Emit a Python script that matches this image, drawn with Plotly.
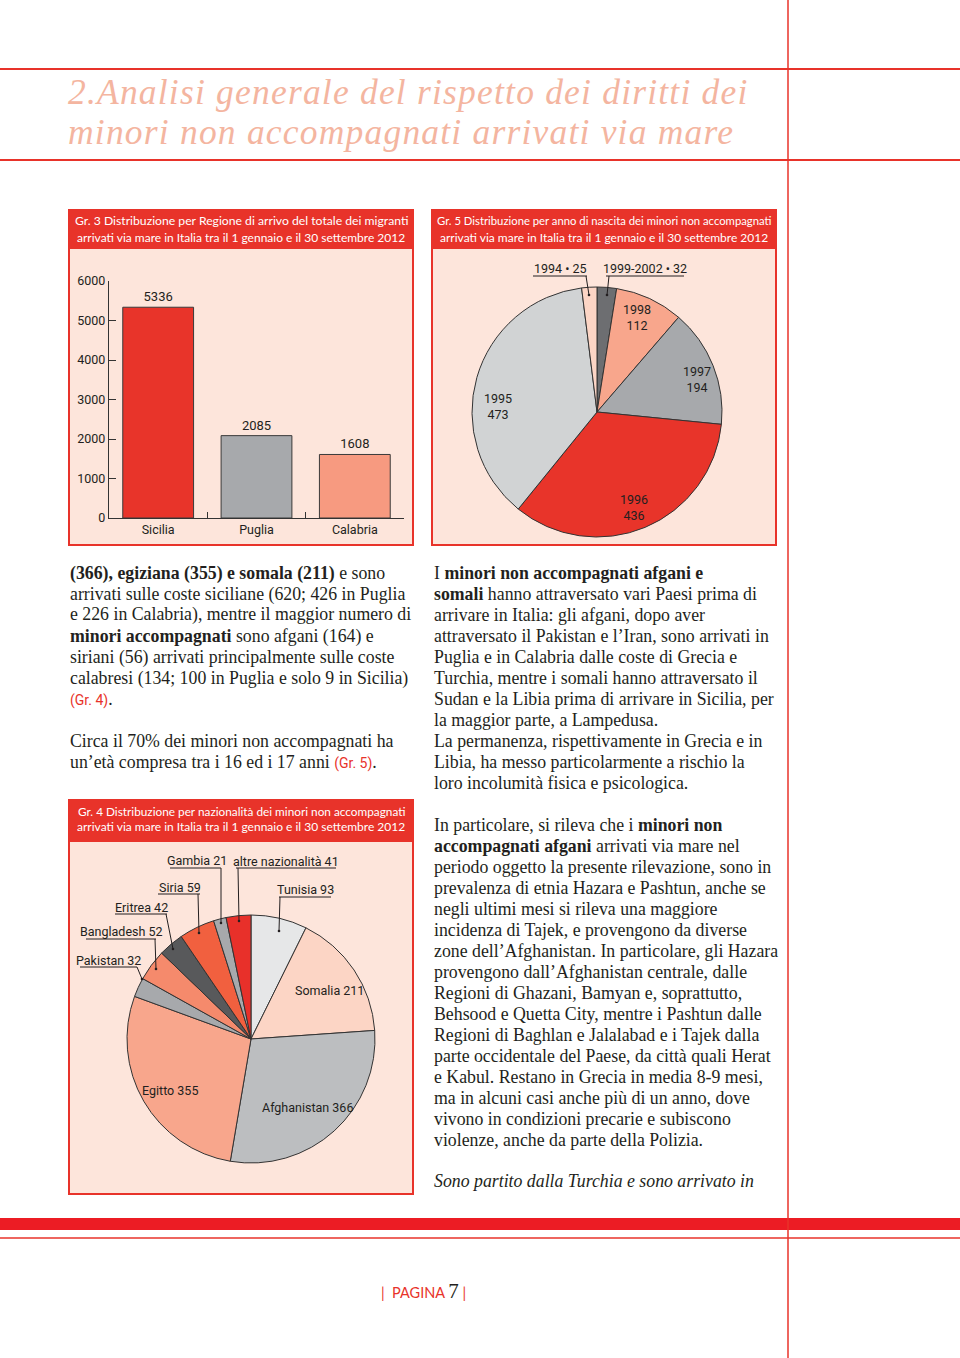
import plotly.graph_objects as go

W, H = 960, 1358

# ---------------- data ----------------
regions = ["Sicilia", "Puglia", "Calabria"]
region_values = [5336, 2085, 1608]
region_colors = ["#e8342a", "#a7a9ac", "#f79a80"]
bar_ticks = [0, 1000, 2000, 3000, 4000, 5000, 6000]

birth_years = ["1999-2002", "1998", "1997", "1996", "1995", "1994"]
birth_values = [32, 112, 194, 436, 473, 25]
birth_colors = ["#6d6e71", "#f8a68c", "#a7a9ac", "#e8342a", "#d1d3d4", "#fcd5c5"]

nations = ["Tunisia", "Somalia", "Afghanistan", "Egitto", "Pakistan", "Bangladesh",
           "Eritrea", "Siria", "Gambia", "altre nazionalità"]
nation_values = [93, 211, 366, 355, 32, 52, 42, 59, 21, 41]
nation_colors = ["#e6e7e8", "#fcd5c5", "#bcbec0", "#f8a68c", "#a7a9ac", "#f58a6c",
                 "#58595b", "#f1603f", "#a7a9ac", "#e8302a"]

# ---------------- helpers ----------------
def X(p):
    return p / W

def Y(p):
    return 1 - p / H

RED = "#e8332a"
BOXBG = "#fde5db"
INK = "#231f20"
COND = "Roboto, Lato, sans-serif"
GILL = "Lato, Open Sans, sans-serif"
SERIF = "Liberation Serif, DejaVu Serif, serif"

shapes = []
annos = []

def rect(x0, y0, x1, y1, fill=None, line=None, lw=0, layer="below"):
    shapes.append(dict(type="rect", xref="paper", yref="paper",
                       x0=X(x0), x1=X(x1), y0=Y(y1), y1=Y(y0),
                       fillcolor=fill if fill else "rgba(0,0,0,0)",
                       line=dict(color=line if line else "rgba(0,0,0,0)", width=lw),
                       layer=layer))

def line(x0, y0, x1, y1, color=INK, lw=1, layer="above"):
    shapes.append(dict(type="line", xref="paper", yref="paper",
                       x0=X(x0), x1=X(x1), y0=Y(y0), y1=Y(y1),
                       line=dict(color=color, width=lw), layer=layer))

def dot(x, y, r=1.3):
    shapes.append(dict(type="circle", xref="paper", yref="paper",
                       x0=X(x - r), x1=X(x + r), y0=Y(y + r), y1=Y(y - r),
                       fillcolor=INK, line=dict(width=0), layer="above"))

def text(x, y, s, size=16, color=INK, family=SERIF, anchor="left"):
    annos.append(dict(xref="paper", yref="paper", x=X(x), y=Y(y), text=s,
                      showarrow=False, xanchor=anchor, yanchor="middle",
                      font=dict(size=size, color=color, family=family)))

# ---------------- page frame ----------------
line(0, 69, W, 69, color=RED, lw=2)
line(0, 160, W, 160, color=RED, lw=2)
line(788, 0, 788, H, color=RED, lw=1.5)
rect(0, 1218, W, 1230, fill="#ec1c24", layer="below")
line(0, 1238, W, 1238, color=RED, lw=1.5)

LS = "<span style='letter-spacing:1.2px'>"
text(66, 92, LS + "<i>2.Analisi generale del rispetto dei diritti dei</i></span>", size=35.5,
     color="#f4b5a0", family=SERIF)
text(66, 132, LS + "<i>minori non accompagnati arrivati via mare</i></span>", size=35.5,
     color="#f4b5a0", family=SERIF)

# footer page number
text(423, 1291, "<span style='color:#e8332a'>|  PAGINA </span>"
     "<span style='font-family:Liberation Serif;font-size:21px;color:#231f20'>7</span>"
     "<span style='color:#e8332a'> |</span>", size=14.5, family=GILL, anchor="center")

# ---------------- chart boxes ----------------
def box(x0, y0, x1, y1, hb, t1, t2, s1, s2):
    rect(x0, y0, x1, y1, fill=BOXBG, line=RED, lw=2)
    rect(x0, y0, x1, hb, fill=RED, line=RED, lw=2)
    cx = (x0 + x1) / 2
    text(cx, y0 + 11, t1, size=s1, color="white", family=GILL, anchor="center")
    text(cx, y0 + 27, t2, size=s2, color="white", family=GILL, anchor="center")

sub = "arrivati via mare in Italia tra il 1 gennaio e il 30 settembre 2012"
box(69, 210, 413, 545, 248, "Gr. 3 Distribuzione per Regione di arrivo del totale dei migranti", sub, 12.2, 12.0)
box(432, 210, 776, 545, 248, "Gr. 5 Distribuzione per anno di nascita dei minori non accompagnati", sub, 11.3, 12.0)
box(69, 800, 413, 1194, 841, "Gr. 4 Distribuzione per nazionalità dei minori non accompagnati", sub, 11.8, 12.0)

# ---------------- bar chart (Gr. 3) ----------------
fig = go.Figure()
fig.add_trace(go.Bar(
    x=regions, y=region_values, width=0.72,
    marker=dict(color=region_colors, line=dict(color="#3a3a3a", width=1)),
    text=[str(v) for v in region_values], textposition="outside",
    textfont=dict(family=COND, size=13, color=INK), cliponaxis=False,
    hoverinfo="skip", xaxis="x", yaxis="y"))

# ---------------- pie Gr. 5 ----------------
c5x, c5y, r5 = 597, 412, 125
fig.add_trace(go.Pie(
    labels=birth_years, values=birth_values, sort=False, direction="clockwise",
    rotation=0, marker=dict(colors=birth_colors, line=dict(color="#333333", width=1)),
    textinfo="none", hoverinfo="skip", showlegend=False,
    domain=dict(x=[X(c5x - r5), X(c5x + r5)], y=[Y(c5y + r5), Y(c5y - r5)])))

g5_pos = {"1998": (637, 317), "1997": (697, 379), "1996": (634, 507), "1995": (498, 406)}
for lab, val in zip(birth_years, birth_values):
    if lab in g5_pos:
        x, y = g5_pos[lab]
        text(x, y, f"{lab}<br>{val}", size=12.5, family=COND, anchor="center")
small5 = {"1994": (560, 269, 533, 587, 586, 589), "1999-2002": (645, 269, 606, 684, 609, 607)}
for lab, val in zip(birth_years, birth_values):
    if lab in small5:
        x, y, u0, u1, lx, dx = small5[lab]
        text(x, y, f"{lab} • {val}", size=12.5, family=COND, anchor="center")
        line(u0, 276, u1, 276, lw=1)
        line(lx, 276, dx, 295, lw=1)
        dot(dx, 295)

# ---------------- pie Gr. 4 ----------------
c4x, c4y, r4 = 251, 1039, 124
fig.add_trace(go.Pie(
    labels=nations, values=nation_values, sort=False, direction="clockwise",
    rotation=0, marker=dict(colors=nation_colors, line=dict(color="#333333", width=1)),
    textinfo="none", hoverinfo="skip", showlegend=False,
    domain=dict(x=[X(c4x - r4), X(c4x + r4)], y=[Y(c4y + r4), Y(c4y - r4)])))

inner4 = {"Somalia": (329, 990), "Afghanistan": (307, 1107), "Egitto": (170, 1090)}
for lab, val in zip(nations, nation_values):
    if lab in inner4:
        x, y = inner4[lab]
        text(x, y, f"{lab} {val}", size=12.5, family=COND, anchor="center")

# outer labels: text centre, underline y, underline x0,x1, leader start x, dot (x,y)
outer4 = {
    "Gambia": (197, 860, 868, 170, 221, 221, 221, 923),
    "altre nazionalità": (286, 861, 868, 236, 336, 238, 239, 921),
    "Tunisia": (305, 889, 897, 279, 331, 280, 279, 931),
    "Siria": (180, 887, 894, 158, 200, 198, 199, 933),
    "Eritrea": (141, 907, 914, 115, 167, 166, 173, 949),
    "Bangladesh": (121, 931, 939, 86, 156, 155, 156, 969),
    "Pakistan": (108, 960, 967, 80, 137, 137, 142, 979),
}
for lab, val in zip(nations, nation_values):
    if lab in outer4:
        tx, ty, uy, u0, u1, lx, dx, dy = outer4[lab]
        text(tx, ty, f"{lab} {val}", size=12.5, family=COND, anchor="center")
        line(u0, uy, u1, uy, lw=1)
        line(lx, uy, dx, dy, lw=1)
        dot(dx, dy)

# ---------------- body text ----------------
RC = "<span style='color:#e8332a;font-family:Roboto, sans-serif;font-size:14px'>"
BS = 17.8
left_lines = [
    (573, "<b>(366), egiziana (355) e somala (211)</b> e sono"),
    (594, "arrivati sulle coste siciliane (620; 426 in Puglia"),
    (615, "e 226 in Calabria), mentre il maggior numero di"),
    (636, "<b>minori accompagnati</b> sono afgani (164) e"),
    (657, "siriani (56) arrivati principalmente sulle coste"),
    (678, "calabresi (134; 100 in Puglia e solo 9 in Sicilia)"),
    (699, RC + "(Gr. 4)</span>."),
    (741, "Circa il 70% dei minori non accompagnati ha"),
    (762, "un’età compresa tra i 16 ed i 17 anni " + RC + "(Gr. 5)</span>."),
]
for y, s in left_lines:
    text(68, y, s, size=BS)

right_lines = [
    "I <b>minori non accompagnati afgani e</b>",
    "<b>somali</b> hanno attraversato vari Paesi prima di",
    "arrivare in Italia: gli afgani, dopo aver",
    "attraversato il Pakistan e l’Iran, sono arrivati in",
    "Puglia e in Calabria dalle coste di Grecia e",
    "Turchia, mentre i somali hanno attraversato il",
    "Sudan e la Libia prima di arrivare in Sicilia, per",
    "la maggior parte, a Lampedusa.",
    "La permanenza, rispettivamente in Grecia e in",
    "Libia, ha messo particolarmente a rischio la",
    "loro incolumità fisica e psicologica.",
]
for i, s in enumerate(right_lines):
    text(432, 573 + 21 * i, s, size=BS)

right_lines2 = [
    "In particolare, si rileva che i <b>minori non</b>",
    "<b>accompagnati afgani</b> arrivati via mare nel",
    "periodo oggetto la presente rilevazione, sono in",
    "prevalenza di etnia Hazara e Pashtun, anche se",
    "negli ultimi mesi si rileva una maggiore",
    "incidenza di Tajek, e provengono da diverse",
    "zone dell’Afghanistan. In particolare, gli Hazara",
    "provengono dall’Afghanistan centrale, dalle",
    "Regioni di Ghazani, Bamyan e, soprattutto,",
    "Behsood e Quetta City, mentre i Pashtun dalle",
    "Regioni di Baghlan e Jalalabad e i Tajek dalla",
    "parte occidentale del Paese, da città quali Herat",
    "e Kabul. Restano in Grecia in media 8-9 mesi,",
    "ma in alcuni casi anche più di un anno, dove",
    "vivono in condizioni precarie e subiscono",
    "violenze, anche da parte della Polizia.",
]
for i, s in enumerate(right_lines2):
    text(432, 825 + 21 * i, s, size=BS)
text(432, 1181, "<i>Sono partito dalla Turchia e sono arrivato in</i>", size=BS)

# ---------------- axes ----------------
axis_font = dict(family=COND, size=12.5, color=INK)
fig.update_layout(
    width=W, height=H, margin=dict(l=0, r=0, t=0, b=0, pad=0, autoexpand=False),
    paper_bgcolor="white", plot_bgcolor="rgba(0,0,0,0)",
    showlegend=False,
    xaxis=dict(domain=[X(109), X(404)], anchor="y", type="category", automargin=False,
               showline=True, linecolor="#333333", linewidth=1.2,
               ticks="inside", tickson="boundaries", ticklen=6, tickcolor="#333333",
               showgrid=False, zeroline=False, tickfont=axis_font, fixedrange=True),
    yaxis=dict(domain=[Y(518), Y(281)], anchor="x", range=[0, 6000], automargin=False,
               tickvals=bar_ticks, showline=True, linecolor="#333333", linewidth=1.2,
               ticks="inside", ticklen=7, tickcolor="#333333",
               showgrid=False, zeroline=False, tickfont=axis_font, fixedrange=True),
    shapes=shapes, annotations=annos,
)

fig.write_html("out.html", config={"displayModeBar": False},
               post_script="document.body.style.margin='0';")
